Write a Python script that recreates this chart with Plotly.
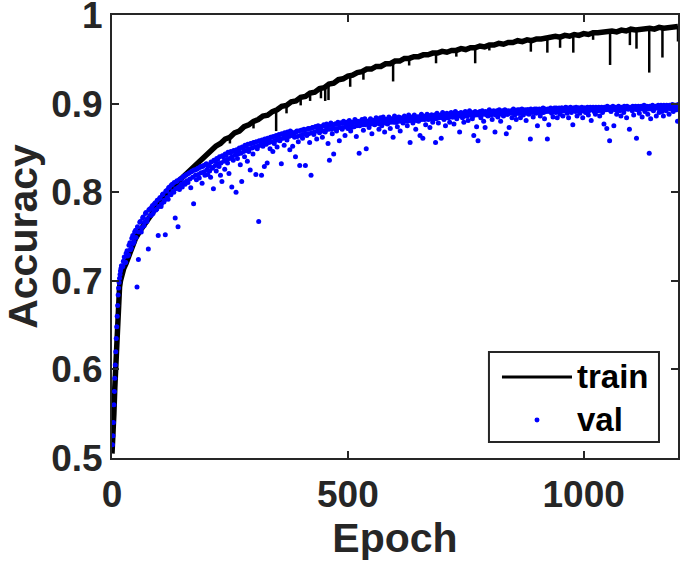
import plotly.graph_objects as go

# ---------------- data ----------------
train_epochs = [0, 2, 4, 6, 8, 10, 12, 14, 16, 18, 20, 25] + list(range(30, 1201, 10))
train_permille = [
    505, 520, 550, 580, 610, 635, 660, 680, 693, 700, 706, 714,
    720, 734, 748, 757, 766, 772, 780, 786, 794, 800,
    807, 812, 818, 822, 829, 833, 839, 842, 848, 852,
    855, 860, 862, 867, 869, 874, 876, 880, 882, 886,
    887, 891, 893, 897, 898, 902, 903, 907, 908, 912,
    913, 917, 918, 922, 923, 927, 928, 931, 932, 935,
    936, 939, 939, 942, 942, 945, 945, 948, 948, 951,
    951, 953, 953, 955, 955, 957, 957, 959, 958, 960,
    960, 962, 961, 963, 963, 965, 964, 966, 966, 968,
    967, 969, 969, 971, 970, 972, 971, 973, 973, 974,
    974, 976, 975, 977, 976, 978, 977, 979, 978, 980,
    980, 981, 981, 982, 981, 983, 982, 984, 983, 984,
    984, 985, 984, 986, 985, 986, 986, 987,
]

# sharp downward dips of the training curve
spike_epochs = [250, 300, 348, 370, 400, 420, 443, 452, 459, 505, 533, 596, 630, 687,
                730, 770, 800, 888, 923, 950, 978, 1020, 1056, 1098, 1112, 1139, 1167, 1200]
spike_top = [0.862, 0.880, 0.892, 0.898, 0.907, 0.912, 0.917, 0.919, 0.921, 0.931, 0.937,
             0.947, 0.951, 0.957, 0.961, 0.964, 0.967, 0.972, 0.975, 0.976, 0.978, 0.980,
             0.982, 0.984, 0.984, 0.985, 0.986, 0.987]
spike_bottom = [0.855, 0.872, 0.869, 0.889, 0.898, 0.903, 0.906, 0.903, 0.904, 0.919, 0.927,
                0.925, 0.943, 0.9455, 0.953, 0.9455, 0.960, 0.9586, 0.9575, 0.963, 0.9575,
                0.972, 0.9436, 0.966, 0.962, 0.935, 0.952, 0.970]

# validation accuracy, first set of epochs (1..20, then 23, 26, ... 1199)
val_epochs_a = list(range(1, 21)) + list(range(23, 1200, 3))
val_permille_a = [
    515, 525, 540, 560, 575, 590, 605, 620, 635, 648, 660, 672, 684, 692, 698, 703, 707, 711, 714, 717,
    716, 727, 721, 734, 729, 743, 737, 751, 744, 757, 693, 724, 766, 755, 771, 762, 776, 767, 736, 781,
    774, 785, 779, 788, 781, 751, 793, 784, 797, 789, 752, 802, 792, 806, 797, 809, 800, 771, 812, 761,
    803, 815, 806, 818, 809, 820, 811, 822, 805, 824, 787, 825, 814, 827, 816, 829, 810, 830, 819, 832,
    820, 831, 817, 828, 804, 835, 824, 837, 829, 819, 812, 840, 826, 842, 833, 821, 844, 806, 836, 846,
    800, 838, 848, 831, 812, 850, 840, 852, 835, 846, 825, 855, 843, 856, 820, 849, 767, 857, 819, 852,
    829, 858, 833, 860, 849, 862, 846, 855, 863, 851, 864, 858, 832, 865, 853, 866, 859, 867, 848, 868,
    852, 866, 840, 869, 857, 830, 870, 861, 871, 830, 864, 872, 856, 819, 873, 865, 874, 860, 875, 867,
    874, 862, 876, 868, 877, 855, 836, 878, 866, 843, 877, 869, 879, 858, 878, 871, 880, 864, 879, 872,
    881, 869, 879, 874, 882, 863, 880, 844, 876, 882, 870, 883, 849, 879, 873, 883, 866, 881, 876, 884,
    878, 871, 884, 875, 885, 868, 882, 877, 885, 872, 883, 862, 886, 879, 874, 885, 869, 883, 878, 886,
    881, 875, 887, 856, 884, 878, 887, 871, 885, 880, 864, 888, 861, 883, 876, 888, 882, 873, 887, 879,
    883, 856, 889, 878, 886, 861, 890, 882, 875, 889, 884, 879, 890, 885, 877, 891, 883, 888, 868, 890,
    884, 879, 891, 886, 881, 892, 887, 883, 864, 891, 874, 858, 889, 884, 892, 880, 873, 890, 886, 893,
    887, 882, 892, 868, 889, 885, 893, 880, 890, 886, 893, 866, 888, 873, 891, 884, 894, 887, 882, 893,
    889, 884, 894, 887, 891, 881, 893, 888, 860, 892, 885, 894, 889, 875, 893, 886, 890, 895, 883, 892,
    860, 876, 894, 889, 885, 895, 890, 884, 893, 888, 895, 886, 892, 896, 889, 884, 894, 890, 876, 895,
    891, 886, 895, 889, 893, 884, 895, 890, 895, 887, 893, 881, 895, 891, 888, 895, 892, 886, 895, 890,
    877, 894, 872, 895, 858, 891, 895, 875, 893, 888, 895, 892, 886, 895, 890, 895, 884, 894, 871, 895,
    892, 887, 895, 861, 894, 889, 896, 885, 895, 891, 896, 888, 844, 883, 895, 892, 896, 886, 895, 890,
    896, 891, 886, 895, 892, 897, 888, 894, 897, 891, 898, 893, 880,
]

# validation accuracy, second set of epochs (24, 27, ... 1200)
val_epochs_b = list(range(24, 1201, 3))
val_permille_b = [
    722, 720, 731, 728, 740, 735, 748, 742, 755, 749, 761, 755, 767, 760, 772, 766, 777, 770, 780, 774,
    783, 776, 787, 780, 791, 784, 794, 787, 798, 791, 801, 794, 805, 798, 808, 801, 811, 804, 813, 806,
    815, 809, 817, 811, 819, 813, 821, 815, 823, 817, 825, 819, 826, 820, 828, 822, 829, 823, 831, 825,
    829, 824, 834, 827, 836, 830, 838, 832, 840, 833, 841, 835, 843, 837, 845, 838, 846, 840, 847, 842,
    848, 843, 850, 844, 851, 846, 853, 847, 854, 849, 855, 850, 856, 851, 857, 852, 858, 853, 859, 854,
    860, 854, 861, 856, 862, 857, 863, 858, 864, 859, 865, 860, 866, 861, 867, 862, 868, 863, 869, 864,
    867, 862, 868, 863, 869, 864, 870, 865, 870, 866, 871, 866, 872, 867, 873, 868, 874, 869, 874, 870,
    874, 869, 875, 870, 875, 871, 876, 871, 876, 872, 877, 872, 877, 873, 878, 873, 878, 874, 878, 874,
    877, 873, 878, 874, 879, 875, 879, 875, 880, 876, 880, 876, 880, 877, 881, 877, 881, 877, 881, 878,
    881, 877, 882, 878, 882, 878, 882, 878, 883, 879, 882, 879, 883, 879, 883, 880, 884, 880, 883, 880,
    884, 880, 884, 881, 885, 881, 885, 881, 885, 882, 886, 882, 886, 882, 886, 883, 886, 883, 887, 883,
    887, 883, 887, 884, 887, 884, 888, 884, 888, 884, 888, 885, 888, 885, 889, 885, 889, 886, 889, 886,
    889, 886, 890, 886, 889, 887, 890, 886, 890, 887, 890, 887, 891, 887, 890, 888, 891, 887, 891, 888,
    891, 888, 891, 887, 892, 888, 891, 888, 892, 889, 892, 888, 892, 889, 892, 889, 893, 889, 892, 889,
    893, 889, 893, 890, 893, 889, 893, 890, 894, 890, 893, 890, 894, 890, 894, 891, 894, 890, 894, 891,
    894, 891, 895, 891, 894, 891, 895, 892, 895, 891, 895, 892, 895, 892, 895, 892, 896, 892, 895, 892,
    896, 892, 895, 893, 896, 892, 895, 893, 896, 892, 896, 893, 896, 893, 896, 893, 896, 893, 896, 893,
    896, 893, 897, 893, 896, 893, 897, 894, 896, 893, 897, 894, 896, 893, 897, 894, 897, 894, 896, 894,
    897, 894, 897, 893, 897, 894, 897, 894, 898, 894, 897, 894, 897, 894, 898, 894, 897, 895, 898, 894,
    898, 895, 898, 894, 898, 895, 898, 895, 899, 895, 898, 895, 899,
]

x_tick_values = [0, 500, 1000]
y_tick_values = [0.5, 0.6, 0.7, 0.8, 0.9, 1.0]
y_tick_labels = ["0.5", "0.6", "0.7", "0.8", "0.9", "1"]
legend_labels = ["train", "val"]

# ---------------- figure ----------------
INK = "#262626"
FONT = "Liberation Sans"
TRAIN_COLOR = "black"
VAL_COLOR = "#0000ff"

train_acc = [v / 1000 for v in train_permille]
val_epochs = val_epochs_a + val_epochs_b
val_acc = [v / 1000 for v in val_permille_a] + [v / 1000 for v in val_permille_b]

spike_x, spike_y = [], []
for e, t, b in zip(spike_epochs, spike_top, spike_bottom):
    spike_x += [e, e, None]
    spike_y += [t, b, None]

fig = go.Figure()
fig.add_trace(go.Scatter(x=train_epochs, y=train_acc, mode="lines", name=legend_labels[0],
                         line=dict(color=TRAIN_COLOR, width=5.5), showlegend=False))
fig.add_trace(go.Scatter(x=spike_x, y=spike_y, mode="lines", showlegend=False,
                         hoverinfo="skip", line=dict(color=TRAIN_COLOR, width=2.5)))
fig.add_trace(go.Scatter(x=val_epochs, y=val_acc, mode="markers", name=legend_labels[1],
                         marker=dict(color=VAL_COLOR, size=5, line=dict(width=0)),
                         showlegend=False))

axis_common = dict(
    showline=True, linecolor=INK, linewidth=2, mirror="ticks",
    ticks="inside", ticklen=7, tickwidth=2, tickcolor=INK,
    showgrid=False, zeroline=False, automargin=False,
    ticklabeloverflow="allow",
    tickfont=dict(family=FONT, size=37, color=INK, weight="bold"),
)

# legend box drawn in the MATLAB style (paper coordinates of the plot area)
lg_x0, lg_x1, lg_y0, lg_y1 = 0.666, 0.9664, 0.036, 0.239
row_train, row_val = 0.183, 0.086
shapes = [
    dict(type="rect", xref="paper", yref="paper", x0=lg_x0, x1=lg_x1, y0=lg_y0, y1=lg_y1,
         line=dict(color=INK, width=2), fillcolor="white", layer="above"),
    dict(type="line", xref="paper", yref="paper", x0=0.689, x1=0.8127, y0=row_train, y1=row_train,
         line=dict(color=TRAIN_COLOR, width=3), layer="above"),
    dict(type="circle", xref="paper", yref="paper", x0=0.7465, x1=0.7553,
         y0=row_val - 0.0056, y1=row_val + 0.0056,
         line=dict(width=0), fillcolor=VAL_COLOR, layer="above"),
]
annotations = [
    dict(xref="paper", yref="paper", x=0.818, y=row_train, text=legend_labels[0],
         xanchor="left", yanchor="middle", showarrow=False,
         font=dict(family=FONT, size=33, color="black", weight="bold")),
    dict(xref="paper", yref="paper", x=0.818, y=row_val, text=legend_labels[1],
         xanchor="left", yanchor="middle", showarrow=False,
         font=dict(family=FONT, size=33, color="black", weight="bold")),
]

fig.update_layout(
    width=684, height=561,
    margin=dict(l=112, r=6, t=15, b=103),
    paper_bgcolor="white", plot_bgcolor="white",
    font=dict(family=FONT, color=INK, weight="bold"),
    xaxis=dict(range=[0, 1200], tickvals=x_tick_values, ticklabelstandoff=3,
               title=dict(text="Epoch", font=dict(family=FONT, size=41, color=INK, weight="bold"),
                          standoff=4),
               **axis_common),
    yaxis=dict(range=[0.5, 1.0], tickvals=y_tick_values, ticktext=y_tick_labels,
               ticklabelstandoff=0,
               title=dict(text="Accuracy", font=dict(family=FONT, size=41, color=INK, weight="bold"),
                          standoff=9),
               **axis_common),
    shapes=shapes,
    annotations=annotations,
    showlegend=False,
)

fig.write_html("out.html", config={"displayModeBar": False},
               post_script="document.body.style.margin='0';")
